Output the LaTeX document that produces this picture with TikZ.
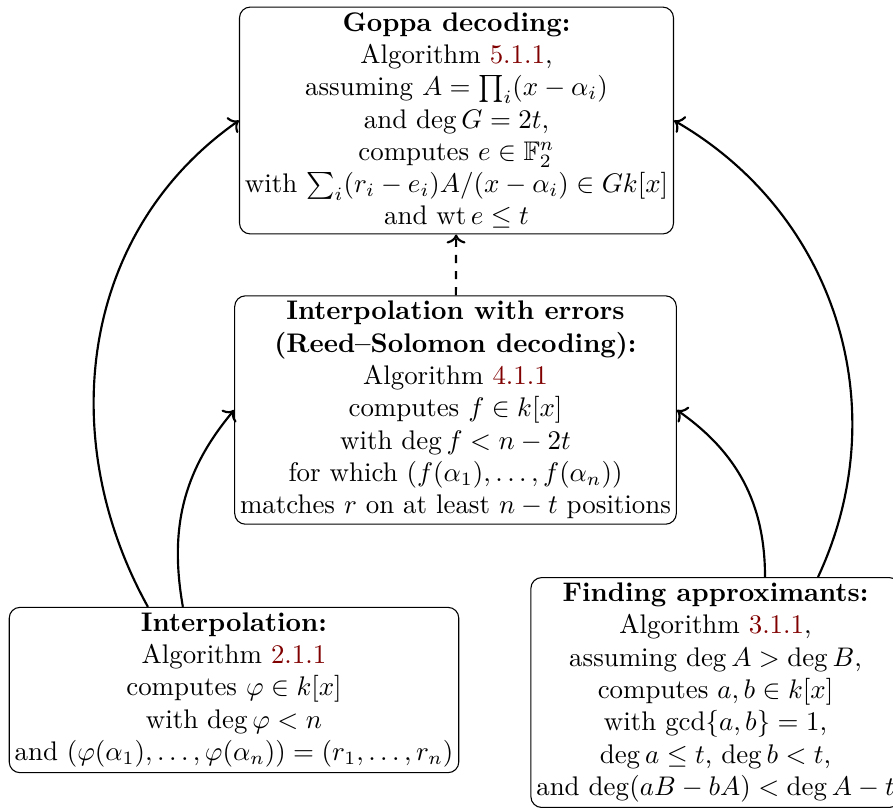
\documentclass[tikz,border=0pt]{standalone}
\usepackage{amsmath,amssymb}
\usepackage{xcolor}
\usepackage{tikz}
\usetikzlibrary{arrows.meta}

\definecolor{linkred}{rgb}{0.5,0,0}
\newcommand{\algref}[1]{\textcolor{linkred}{#1}}

\begin{document}
\begin{tikzpicture}[x=0.3717pt, y=-0.3717pt, thick, >={To}]
    \useasboundingbox (0,0) rectangle (893,810);

    \node[rectangle, draw, thin, rounded corners, align=center, inner sep=2pt] (goppa) at (456.5,120.5)
        {\textbf{Goppa decoding:}\\ Algorithm \algref{5.1.1},\\ assuming $A=\prod_i(x-\alpha_i)$\\
         and $\deg G=2t$,\\ computes $e\in\mathbb{F}_2^n$\\ with $\sum_i(r_i-e_i)A/(x-\alpha_i)\in Gk[x]$\\
         and $\operatorname{wt}e\le t$};
    \node[rectangle, draw, thin, rounded corners, align=center, inner sep=2pt] (rs) at (455.5,410)
        {\textbf{Interpolation with errors}\\ \textbf{(Reed--Solomon decoding):}\\ Algorithm \algref{4.1.1}\\
         computes $f\in k[x]$\\ with $\deg f<n-2t$\\ for which $(f(\alpha_1),\dots,f(\alpha_n))$\\
         matches $r$ on at least $n-t$ positions};
    \node[rectangle, draw, thin, rounded corners, align=center, inner sep=2pt] (interp) at (234,690)
        {\textbf{Interpolation:}\\ Algorithm \algref{2.1.1}\\ computes $\varphi\in k[x]$\\
         with $\deg\varphi<n$\\ and $(\varphi(\alpha_1),\dots,\varphi(\alpha_n))=(r_1,\dots,r_n)$};
    \node[rectangle, draw, thin, rounded corners, align=center, inner sep=2pt] (approx) at (715.5,692.5)
        {\textbf{Finding approximants:}\\ Algorithm \algref{3.1.1},\\ assuming $\deg A>\deg B$,\\
         computes $a,b\in k[x]$\\ with $\gcd\{a,b\}=1$,\\ $\deg a\le t$, $\deg b<t$,\\
         and $\deg(aB-bA)<\deg A-t$};

    \draw[->, dashed] (rs) -- (goppa);
    \draw[->] ([xshift=-32pt]interp.north) to[out=119, in=215] (goppa.west);
    \draw[->] ([xshift=-19pt]interp.north) to[out=100, in=230] (rs.west);
    \draw[->] ([xshift=18.4pt]approx.north) to[out=90, in=-35] (rs.east);
    \draw[->] ([xshift=38.1pt]approx.north) to[out=65, in=-30] (goppa.east);
\end{tikzpicture}
\end{document}
